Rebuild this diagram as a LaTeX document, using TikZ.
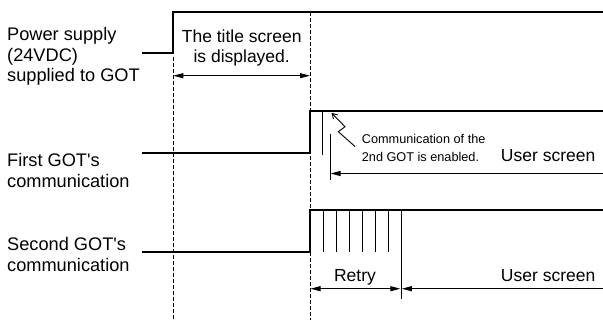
\documentclass[tikz,border=0pt]{standalone}
\usepackage{fontspec}
\setmainfont{Liberation Sans}
\usetikzlibrary{arrows.meta}
\begin{document}
\begin{tikzpicture}[x=1pt,y=-1pt,
  sig/.style={line width=2pt,line join=miter},
  thin/.style={line width=0.9pt},
  guide/.style={line width=0.9pt,dash pattern=on 3.5pt off 2.5pt},
  dim/.style={line width=0.9pt,{Triangle[length=10pt,width=5pt]}-{Triangle[length=10pt,width=5pt]}},
  dimL/.style={line width=0.9pt,{Triangle[length=10pt,width=5pt]}-},
  lbl/.style={inner sep=0pt,font=\fontsize{17.5}{20.5}\selectfont},
  side/.style={inner sep=0pt,font=\fontsize{18.2}{20.5}\selectfont},
  small/.style={inner sep=0pt,font=\fontsize{12.7}{17.5}\selectfont}]
\useasboundingbox (0,0) rectangle (603,322);

% coordinates
\coordinate (p0) at (142,53.3);
\coordinate (p1) at (173.3,53.3);
\coordinate (p2) at (173.3,12.3);
\coordinate (p3) at (603,12.3);
\coordinate (f0) at (142,152.5);
\coordinate (f1) at (310,152.5);
\coordinate (f2) at (310,110.5);
\coordinate (f3) at (603,110.5);
\coordinate (s0) at (142,252);
\coordinate (s1) at (310,252);
\coordinate (s2) at (310,210);
\coordinate (s3) at (603,210);

% guide lines
\draw[guide] (173.3,57) coordinate (g1t) -- (173.3,320) coordinate (g1b);
\draw[guide] (310,12.3) coordinate (g2t) -- (310,320) coordinate (g2b);

% signals
\draw[sig] (p0) -- (p1) -- (p2) -- (p3);
\draw[sig] (f0) -- (f1) -- (f2) -- (f3);
\draw[sig] (s0) -- (s1) -- (s2) -- (s3);

% title screen
\coordinate (ta) at (173.3,75.7);
\coordinate (tb) at (310,75.7);
\draw[dim] (ta) -- (tb);
\node[lbl,anchor=base] (t1) at (241.7,42.3) {The title screen};
\node[lbl,anchor=base] (t2) at (241.7,62.7) {is displayed.};

% first GOT
\draw[thin] (322.8,110.5) coordinate (v1t) -- (322.8,155) coordinate (v1b);
\draw[thin] (330,133.5) coordinate (v2t) -- (330,180) coordinate (v2b);
\coordinate (u1r) at (603,173.5);
\coordinate (u1l) at (330.5,173.5);
\draw[dimL] (u1l) -- (u1r);
\node[small,anchor=base west] (c1) at (361.7,143.3) {Communication of the};
\node[small,anchor=base west] (c2) at (361.7,161.2) {2nd GOT is enabled.};
\node[lbl,anchor=base east] (us1) at (595.5,161.7) {User screen};
\coordinate (z0) at (355,146.5);
\coordinate (z1) at (338.3,131.7);
\coordinate (z2) at (345,126.7);
\coordinate (z3) at (331.5,112.8);
\draw[thin,-{Straight Barb[length=5pt,width=6pt]}] (z0) -- (z1) -- (z2) -- (z3);

% second GOT retry pulses
\foreach \x in {323.3,336.3,349.3,362.2,375.2,388.1} {
  \draw[thin] (\x,210) -- (\x,252);
}
\draw[thin] (401,210) coordinate (rt) -- (401,298.5) coordinate (rb);
\coordinate (ra) at (310.5,288.7);
\coordinate (rbb) at (400.3,288.7);
\draw[dim] (ra) -- (rbb);
\coordinate (u2l) at (401.8,288.7);
\coordinate (u2r) at (603,288.7);
\draw[dimL] (u2l) -- (u2r);
\node[lbl,anchor=base] (retry) at (355,281.7) {Retry};
\node[lbl,anchor=base east] (us2) at (595.5,281.7) {User screen};

% left labels
\node[side,anchor=base west] (l1) at (7,40.7) {Power supply};
\node[side,anchor=base west] (l2) at (7,61.2) {(24VDC)};
\node[side,anchor=base west] (l3) at (7,81.7) {supplied to GOT};
\node[side,anchor=base west] (l4) at (7,166.5) {First GOT\textquotesingle s};
\node[side,anchor=base west] (l5) at (7,187) {communication};
\node[side,anchor=base west] (l6) at (7,250.5) {Second GOT\textquotesingle s};
\node[side,anchor=base west] (l7) at (7,271) {communication};
\end{tikzpicture}
\end{document}
